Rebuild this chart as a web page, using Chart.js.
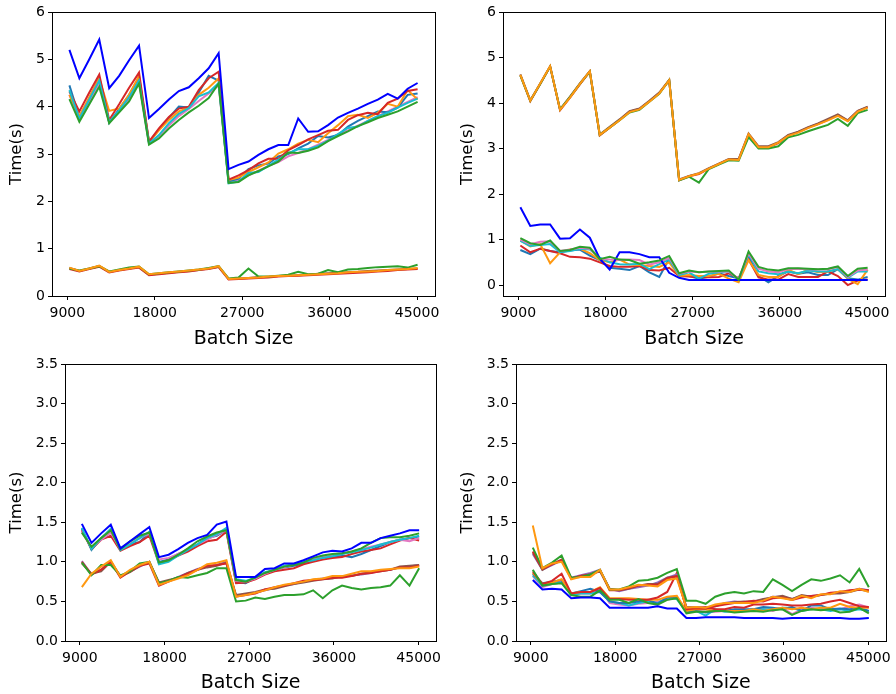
<!DOCTYPE html>
<html>
<head>
<meta charset="utf-8">
<script src="https://cdn.jsdelivr.net/npm/chart.js@4.4.0/dist/chart.umd.min.js"></script>
<style>
  body { margin: 0; background: #fff; }
  #wrap { position: relative; width: 896px; height: 694px; }
  canvas { position: absolute; }
</style>
</head>
<body>
<div id="wrap">
  <canvas id="c1" width="448" height="350" style="left:0;top:0;width:448px;height:350px"></canvas>
  <canvas id="c2" width="448" height="350" style="left:448px;top:0;width:448px;height:350px"></canvas>
  <canvas id="c3" width="448" height="347" style="left:0;top:347px;width:448px;height:347px"></canvas>
  <canvas id="c4" width="448" height="347" style="left:448px;top:347px;width:448px;height:347px"></canvas>
</div>
<script>
const batchSizes = [9216, 10240, 11264, 12288, 13312, 14336, 15360, 16384, 17408, 18432, 19456, 20480,
  21504, 22528, 23552, 24576, 25600, 26624, 27648, 28672, 29696, 30720, 31744, 32768,
  33792, 34816, 35840, 36864, 37888, 38912, 39936, 40960, 41984, 43008, 44032, 45056];
const xTicks = [9000, 18000, 27000, 36000, 45000];
const yTicksTop = [0, 1, 2, 3, 4, 5, 6];
const yTicksBottom = [0, 0.5, 1, 1.5, 2, 2.5, 3, 3.5];

// top left
const p1Blue = [5.2, 4.6, 5.0, 5.42, 4.39, 4.65, 4.98, 5.29, 3.76, 3.95, 4.15, 4.33, 4.41, 4.6, 4.81, 5.13, 2.68, 2.77, 2.84, 2.98, 3.1, 3.19, 3.19, 3.75, 3.47, 3.48, 3.61, 3.77, 3.87, 3.96, 4.06, 4.15, 4.27, 4.17, 4.38, 4.5];
const p1Red = [4.32, 3.9, 4.3, 4.68, 3.72, 4.05, 4.4, 4.72, 3.26, 3.54, 3.78, 3.96, 4.0, 4.35, 4.6, 4.74, 2.46, 2.55, 2.66, 2.8, 2.9, 2.9, 3.08, 3.19, 3.31, 3.4, 3.49, 3.51, 3.72, 3.82, 3.87, 3.84, 4.08, 4.17, 4.33, 4.37];
const p1TabBlue = [4.45, 3.78, 4.18, 4.6, 3.66, 3.95, 4.25, 4.62, 3.25, 3.52, 3.76, 4.0, 3.98, 4.3, 4.65, 4.55, 2.42, 2.48, 2.68, 2.76, 2.8, 2.95, 3.0, 3.12, 3.22, 3.38, 3.35, 3.4, 3.58, 3.7, 3.8, 3.9, 3.88, 3.98, 4.25, 4.28];
const p1Orange = [4.25, 3.8, 4.2, 4.6, 3.91, 3.96, 4.25, 4.65, 3.25, 3.5, 3.72, 3.9, 3.98, 4.25, 4.4, 4.6, 2.45, 2.5, 2.62, 2.72, 2.82, 3.01, 3.1, 3.22, 3.3, 3.25, 3.44, 3.61, 3.8, 3.83, 3.76, 3.87, 4.06, 4.0, 4.35, 4.15];
const p1Cyan = [4.35, 3.75, 4.15, 4.55, 3.68, 3.92, 4.2, 4.55, 3.22, 3.4, 3.65, 3.85, 3.97, 4.22, 4.3, 4.5, 2.38, 2.42, 2.6, 2.62, 2.75, 2.88, 3.02, 3.1, 3.1, 3.17, 3.28, 3.42, 3.55, 3.58, 3.7, 3.8, 3.87, 3.98, 4.08, 4.17];
const p1Pink = [4.25, 3.72, 4.1, 4.5, 3.67, 3.9, 4.15, 4.52, 3.23, 3.38, 3.6, 3.8, 3.95, 4.12, 4.28, 4.45, 2.42, 2.45, 2.55, 2.65, 2.75, 2.83, 2.95, 3.02, 3.1, 3.2, 3.3, 3.42, 3.5, 3.6, 3.7, 3.8, 3.9, 4.0, 4.1, 4.2];
const p1Green = [4.16, 3.68, 4.05, 4.42, 3.65, 3.88, 4.11, 4.49, 3.2, 3.33, 3.54, 3.72, 3.88, 4.02, 4.18, 4.49, 2.39, 2.41, 2.55, 2.64, 2.74, 2.84, 3.03, 3.02, 3.07, 3.14, 3.27, 3.38, 3.48, 3.59, 3.67, 3.76, 3.83, 3.9, 4.0, 4.1];
const p1OrangeLow = [0.6, 0.53, 0.58, 0.64, 0.51, 0.55, 0.58, 0.62, 0.46, 0.48, 0.5, 0.52, 0.54, 0.56, 0.58, 0.63, 0.36, 0.37, 0.38, 0.39, 0.41, 0.42, 0.43, 0.44, 0.45, 0.46, 0.47, 0.48, 0.5, 0.51, 0.52, 0.53, 0.55, 0.56, 0.57, 0.59];
const p1GreenLow = [0.58, 0.54, 0.58, 0.63, 0.52, 0.56, 0.6, 0.62, 0.46, 0.48, 0.5, 0.52, 0.54, 0.56, 0.59, 0.63, 0.37, 0.39, 0.58, 0.41, 0.41, 0.43, 0.45, 0.51, 0.46, 0.47, 0.55, 0.5, 0.56, 0.57, 0.59, 0.61, 0.62, 0.63, 0.6, 0.66];
const p1RedLow = [0.57, 0.52, 0.57, 0.62, 0.5, 0.54, 0.57, 0.6, 0.44, 0.46, 0.48, 0.5, 0.52, 0.55, 0.57, 0.61, 0.35, 0.36, 0.37, 0.38, 0.39, 0.41, 0.42, 0.43, 0.44, 0.45, 0.46, 0.47, 0.48, 0.49, 0.5, 0.52, 0.53, 0.55, 0.56, 0.57];
const p1BrownLow = [0.59, 0.53, 0.58, 0.63, 0.51, 0.55, 0.58, 0.61, 0.45, 0.47, 0.49, 0.51, 0.53, 0.55, 0.58, 0.62, 0.36, 0.37, 0.38, 0.4, 0.4, 0.42, 0.43, 0.44, 0.45, 0.47, 0.48, 0.49, 0.5, 0.51, 0.53, 0.54, 0.55, 0.56, 0.57, 0.58];

// top right
const p2OrangeUp = [4.62, 4.05, 4.43, 4.81, 3.85, 4.12, 4.42, 4.7, 3.3, 3.46, 3.62, 3.8, 3.86, 4.03, 4.21, 4.5, 2.31, 2.39, 2.45, 2.56, 2.66, 2.76, 2.75, 3.32, 3.03, 3.03, 3.13, 3.28, 3.35, 3.45, 3.53, 3.62, 3.72, 3.6, 3.81, 3.9];
const p2GreenUp = [4.6, 4.05, 4.42, 4.8, 3.86, 4.13, 4.42, 4.69, 3.3, 3.46, 3.62, 3.79, 3.85, 4.03, 4.2, 4.5, 2.3, 2.38, 2.25, 2.55, 2.65, 2.74, 2.73, 3.25, 3.0, 3.0, 3.05, 3.25, 3.3, 3.38, 3.45, 3.52, 3.65, 3.5, 3.78, 3.85];
const p2BrownUp = [4.63, 4.06, 4.43, 4.81, 3.86, 4.14, 4.43, 4.7, 3.31, 3.48, 3.64, 3.82, 3.88, 4.05, 4.23, 4.51, 2.32, 2.4, 2.46, 2.57, 2.67, 2.77, 2.77, 3.33, 3.05, 3.05, 3.14, 3.3, 3.37, 3.47, 3.55, 3.65, 3.75, 3.62, 3.83, 3.92];
const p2RedUp = [4.61, 4.04, 4.42, 4.8, 3.84, 4.12, 4.41, 4.69, 3.29, 3.46, 3.63, 3.81, 3.87, 4.04, 4.22, 4.5, 2.3, 2.39, 2.44, 2.56, 2.66, 2.76, 2.76, 3.3, 3.04, 3.03, 3.12, 3.29, 3.36, 3.46, 3.54, 3.63, 3.74, 3.61, 3.82, 3.91];
const p2Blue = [1.71, 1.3, 1.33, 1.33, 1.02, 1.03, 1.22, 1.04, 0.58, 0.34, 0.72, 0.72, 0.68, 0.61, 0.61, 0.27, 0.16, 0.11, 0.11, 0.11, 0.11, 0.11, 0.11, 0.11, 0.11, 0.11, 0.11, 0.11, 0.11, 0.11, 0.11, 0.11, 0.11, 0.11, 0.11, 0.11];
const p2Green = [1.03, 0.92, 0.88, 0.98, 0.75, 0.77, 0.84, 0.82, 0.57, 0.62, 0.56, 0.55, 0.47, 0.5, 0.54, 0.64, 0.26, 0.32, 0.28, 0.3, 0.31, 0.32, 0.12, 0.74, 0.4, 0.34, 0.32, 0.37, 0.37, 0.36, 0.35, 0.36, 0.41, 0.2, 0.36, 0.38];
const p2Red = [0.87, 0.72, 0.8, 0.75, 0.7, 0.62, 0.61, 0.58, 0.5, 0.42, 0.4, 0.4, 0.42, 0.33, 0.32, 0.38, 0.2, 0.19, 0.17, 0.17, 0.18, 0.26, 0.15, 0.56, 0.17, 0.12, 0.12, 0.24, 0.18, 0.18, 0.18, 0.3, 0.2, 0.0, 0.1, 0.12];
const p2TabBlue = [0.77, 0.68, 0.8, 0.75, 0.72, 0.76, 0.78, 0.65, 0.55, 0.38, 0.36, 0.33, 0.42, 0.28, 0.18, 0.58, 0.22, 0.2, 0.14, 0.18, 0.26, 0.2, 0.15, 0.62, 0.2, 0.06, 0.2, 0.3, 0.25, 0.28, 0.22, 0.22, 0.35, 0.15, 0.12, 0.18];
const p2OrangeLow = [0.98, 0.85, 0.9, 0.48, 0.72, 0.78, 0.8, 0.7, 0.55, 0.5, 0.56, 0.45, 0.44, 0.42, 0.4, 0.5, 0.2, 0.22, 0.2, 0.2, 0.25, 0.14, 0.06, 0.55, 0.22, 0.18, 0.18, 0.34, 0.24, 0.34, 0.28, 0.3, 0.35, 0.14, 0.02, 0.34];
const p2Cyan = [0.97, 0.86, 0.88, 0.9, 0.72, 0.75, 0.8, 0.78, 0.6, 0.5, 0.46, 0.45, 0.47, 0.35, 0.46, 0.56, 0.22, 0.28, 0.14, 0.25, 0.28, 0.3, 0.12, 0.68, 0.3, 0.26, 0.24, 0.3, 0.26, 0.32, 0.3, 0.3, 0.35, 0.16, 0.3, 0.3];
const p2Pink = [1.0, 0.9, 0.95, 0.96, 0.75, 0.78, 0.82, 0.8, 0.58, 0.56, 0.55, 0.56, 0.55, 0.45, 0.5, 0.6, 0.25, 0.3, 0.28, 0.3, 0.3, 0.3, 0.13, 0.7, 0.36, 0.3, 0.28, 0.35, 0.36, 0.35, 0.34, 0.35, 0.4, 0.18, 0.32, 0.34];

// bottom left
const p3Blue = [1.48, 1.24, 1.36, 1.47, 1.17, 1.26, 1.35, 1.44, 1.06, 1.09, 1.16, 1.24, 1.3, 1.34, 1.47, 1.51, 0.81, 0.81, 0.81, 0.91, 0.92, 0.98, 0.98, 1.02, 1.07, 1.12, 1.14, 1.13, 1.17, 1.24, 1.24, 1.3, 1.33, 1.36, 1.4, 1.4];
const p3Green = [1.37, 1.19, 1.3, 1.4, 1.16, 1.26, 1.33, 1.37, 0.99, 1.02, 1.09, 1.17, 1.26, 1.32, 1.37, 1.4, 0.77, 0.75, 0.8, 0.86, 0.9, 0.94, 0.96, 0.99, 1.05, 1.08, 1.1, 1.11, 1.13, 1.17, 1.24, 1.3, 1.31, 1.31, 1.33, 1.36];
const p3Red = [1.4, 1.16, 1.28, 1.33, 1.14, 1.2, 1.25, 1.33, 0.98, 1.02, 1.08, 1.13, 1.2, 1.26, 1.28, 1.38, 0.73, 0.74, 0.78, 0.84, 0.88, 0.9, 0.92, 0.97, 1.0, 1.03, 1.05, 1.06, 1.1, 1.13, 1.15, 1.17, 1.22, 1.27, 1.3, 1.27];
const p3Cyan = [1.43, 1.16, 1.3, 1.42, 1.15, 1.22, 1.3, 1.38, 0.97, 1.0, 1.08, 1.15, 1.22, 1.3, 1.35, 1.43, 0.78, 0.76, 0.8, 0.87, 0.9, 0.95, 0.97, 1.0, 1.02, 1.05, 1.07, 1.1, 1.12, 1.15, 1.18, 1.22, 1.25, 1.28, 1.3, 1.33];
const p3TabBlue = [1.42, 1.15, 1.3, 1.4, 1.17, 1.22, 1.25, 1.37, 1.0, 1.03, 1.1, 1.15, 1.22, 1.3, 1.33, 1.4, 0.74, 0.73, 0.8, 0.86, 0.89, 0.93, 0.95, 0.98, 1.02, 1.06, 1.06, 1.08, 1.06, 1.1, 1.15, 1.2, 1.25, 1.28, 1.3, 1.32];
const p3Pink = [1.38, 1.18, 1.28, 1.37, 1.16, 1.23, 1.3, 1.36, 1.03, 1.05, 1.1, 1.16, 1.22, 1.28, 1.34, 1.4, 0.76, 0.75, 0.79, 0.85, 0.9, 0.93, 0.97, 1.0, 1.03, 1.06, 1.08, 1.1, 1.13, 1.16, 1.19, 1.22, 1.25, 1.28, 1.26, 1.3];
const p3Orange = [0.68, 0.85, 0.94, 1.02, 0.81, 0.9, 0.96, 1.0, 0.71, 0.75, 0.79, 0.83, 0.9, 0.97, 0.99, 1.02, 0.56, 0.58, 0.61, 0.64, 0.68, 0.71, 0.73, 0.75, 0.78, 0.79, 0.82, 0.82, 0.85, 0.88, 0.88, 0.9, 0.91, 0.92, 0.92, 0.94];
const p3RedLow = [1.0, 0.84, 0.9, 1.0, 0.8, 0.88, 0.95, 0.98, 0.7, 0.75, 0.8, 0.85, 0.9, 0.95, 0.96, 0.98, 0.56, 0.58, 0.6, 0.65, 0.68, 0.7, 0.73, 0.76, 0.77, 0.78, 0.8, 0.8, 0.82, 0.85, 0.86, 0.88, 0.9, 0.93, 0.93, 0.95];
const p3BrownLow = [0.98, 0.85, 0.88, 1.0, 0.82, 0.87, 0.95, 1.0, 0.74, 0.77, 0.8, 0.86, 0.9, 0.93, 0.95, 0.99, 0.58, 0.6, 0.62, 0.65, 0.66, 0.69, 0.72, 0.74, 0.76, 0.78, 0.79, 0.82, 0.82, 0.85, 0.87, 0.88, 0.9, 0.94, 0.95, 0.96];
const p3PurpleLow = [1.01, 0.84, 0.9, 1.01, 0.81, 0.88, 0.94, 1.0, 0.72, 0.76, 0.81, 0.86, 0.91, 0.94, 0.96, 1.0, 0.57, 0.59, 0.61, 0.64, 0.67, 0.7, 0.72, 0.75, 0.77, 0.79, 0.8, 0.81, 0.83, 0.84, 0.86, 0.89, 0.9, 0.93, 0.94, 0.96];
const p3GreenLow = [0.99, 0.83, 0.96, 0.96, 0.83, 0.88, 0.98, 1.0, 0.73, 0.76, 0.81, 0.8, 0.83, 0.86, 0.92, 0.92, 0.5, 0.51, 0.55, 0.53, 0.56, 0.58, 0.58, 0.59, 0.64, 0.54, 0.64, 0.7, 0.67, 0.65, 0.67, 0.68, 0.7, 0.83, 0.7, 0.92];

// bottom right
const p4Orange = [1.46, 0.92, 0.98, 1.0, 0.78, 0.81, 0.81, 0.9, 0.65, 0.65, 0.68, 0.71, 0.7, 0.69, 0.77, 0.79, 0.42, 0.43, 0.42, 0.46, 0.48, 0.48, 0.48, 0.48, 0.51, 0.56, 0.54, 0.52, 0.57, 0.54, 0.59, 0.59, 0.63, 0.62, 0.66, 0.62];
const p4Green = [1.18, 0.92, 0.99, 1.08, 0.8, 0.81, 0.84, 0.9, 0.65, 0.65, 0.69, 0.76, 0.77, 0.8, 0.86, 0.91, 0.51, 0.51, 0.47, 0.56, 0.6, 0.62, 0.6, 0.63, 0.62, 0.78, 0.71, 0.63, 0.71, 0.78, 0.76, 0.79, 0.83, 0.74, 0.91, 0.68];
const p4Brown = [1.12, 0.9, 0.97, 1.03, 0.79, 0.82, 0.84, 0.88, 0.66, 0.64, 0.66, 0.7, 0.72, 0.72, 0.8, 0.82, 0.43, 0.42, 0.41, 0.45, 0.47, 0.49, 0.5, 0.5, 0.53, 0.55, 0.57, 0.53, 0.58, 0.56, 0.58, 0.6, 0.6, 0.62, 0.65, 0.63];
const p4Purple = [1.1, 0.9, 0.96, 1.02, 0.8, 0.83, 0.86, 0.9, 0.66, 0.63, 0.66, 0.68, 0.7, 0.74, 0.8, 0.84, 0.42, 0.43, 0.42, 0.44, 0.48, 0.5, 0.49, 0.5, 0.52, 0.56, 0.56, 0.53, 0.57, 0.57, 0.58, 0.6, 0.61, 0.63, 0.66, 0.64];
const p4RedUp = [1.13, 0.91, 0.97, 1.02, 0.79, 0.82, 0.84, 0.89, 0.64, 0.64, 0.67, 0.7, 0.71, 0.71, 0.79, 0.82, 0.41, 0.41, 0.41, 0.44, 0.46, 0.48, 0.49, 0.51, 0.5, 0.54, 0.55, 0.52, 0.55, 0.57, 0.58, 0.61, 0.62, 0.64, 0.65, 0.64];
const p4RedMid = [0.88, 0.72, 0.76, 0.85, 0.6, 0.62, 0.62, 0.67, 0.53, 0.53, 0.52, 0.52, 0.52, 0.55, 0.62, 0.86, 0.4, 0.42, 0.43, 0.4, 0.4, 0.43, 0.42, 0.46, 0.46, 0.47, 0.46, 0.45, 0.45, 0.46, 0.47, 0.5, 0.52, 0.48, 0.44, 0.43];
const p4OrangeMid = [0.86, 0.72, 0.74, 0.78, 0.6, 0.62, 0.62, 0.68, 0.54, 0.54, 0.54, 0.53, 0.52, 0.52, 0.56, 0.57, 0.38, 0.4, 0.4, 0.38, 0.38, 0.38, 0.38, 0.4, 0.38, 0.4, 0.42, 0.4, 0.42, 0.4, 0.42, 0.42, 0.47, 0.43, 0.42, 0.42];
const p4TabBlue = [0.85, 0.73, 0.75, 0.77, 0.6, 0.63, 0.66, 0.62, 0.5, 0.48, 0.48, 0.5, 0.52, 0.47, 0.55, 0.56, 0.37, 0.38, 0.36, 0.38, 0.38, 0.4, 0.4, 0.4, 0.43, 0.42, 0.4, 0.43, 0.38, 0.45, 0.45, 0.4, 0.41, 0.4, 0.42, 0.38];
const p4Cyan = [0.83, 0.7, 0.72, 0.74, 0.58, 0.6, 0.6, 0.62, 0.5, 0.48, 0.45, 0.48, 0.5, 0.48, 0.55, 0.53, 0.37, 0.38, 0.32, 0.4, 0.37, 0.38, 0.38, 0.4, 0.4, 0.4, 0.42, 0.42, 0.38, 0.4, 0.4, 0.38, 0.4, 0.38, 0.4, 0.38];
const p4Green2 = [0.9, 0.7, 0.72, 0.73, 0.58, 0.56, 0.56, 0.64, 0.52, 0.52, 0.48, 0.53, 0.48, 0.46, 0.52, 0.54, 0.35, 0.37, 0.37, 0.38, 0.38, 0.36, 0.37, 0.38, 0.37, 0.39, 0.4, 0.33, 0.38, 0.4, 0.39, 0.4, 0.36, 0.37, 0.42, 0.35];
const p4Pink = [0.82, 0.68, 0.72, 0.76, 0.6, 0.6, 0.6, 0.66, 0.48, 0.46, 0.45, 0.47, 0.48, 0.5, 0.52, 0.55, 0.38, 0.38, 0.37, 0.37, 0.38, 0.37, 0.38, 0.4, 0.4, 0.38, 0.42, 0.34, 0.4, 0.42, 0.4, 0.41, 0.4, 0.44, 0.46, 0.42];
const p4Blue = [0.77, 0.65, 0.66, 0.65, 0.54, 0.55, 0.55, 0.54, 0.42, 0.42, 0.42, 0.42, 0.42, 0.44, 0.41, 0.41, 0.29, 0.29, 0.3, 0.3, 0.3, 0.3, 0.29, 0.29, 0.29, 0.29, 0.28, 0.29, 0.29, 0.29, 0.29, 0.29, 0.29, 0.28, 0.28, 0.29];

const C = {
  blue: "#0000ff", tabBlue: "#1f77b4", orange: "#ff9810", green: "#2ca02c", red: "#d62728",
  purple: "#9467bd", brown: "#8c564b", pink: "#e377c2", cyan: "#17becf"
};
const family = "'DejaVu Sans', sans-serif";
const tickFont = { family: family, size: 14 };

// matplotlib style box around the plot area
const frame = {
  id: "frame",
  afterDatasetsDraw(chart) {
    const a = chart.chartArea;
    const ctx = chart.ctx;
    ctx.save();
    ctx.strokeStyle = "#000";
    ctx.lineWidth = 1;
    ctx.strokeRect(Math.round(a.left) + 0.5, Math.round(a.top) + 0.5,
      Math.round(a.right - a.left), Math.round(a.bottom - a.top));
    ctx.restore();
  }
};

function drawPanel(id, cfg) {
  // first entry ends up on top
  const datasets = cfg.series.map(s => ({
    label: s[0],
    data: batchSizes.map((x, i) => ({ x: x, y: s[2][i] })),
    borderColor: s[1],
    borderWidth: 2,
    pointRadius: 0,
    fill: false,
    tension: 0
  }));

  new Chart(document.getElementById(id), {
    type: "line",
    data: { datasets: datasets },
    options: {
      responsive: false,
      animation: false,
      events: [],
      layout: { padding: cfg.pad },
      plugins: { legend: { display: false }, tooltip: { enabled: false } },
      scales: {
        x: {
          type: "linear",
          min: 7424,
          max: 46848,
          afterBuildTicks: ax => { ax.ticks = xTicks.map(v => ({ value: v })); },
          afterFit: ax => { ax.height = cfg.xh; },
          ticks: { font: tickFont, color: "#000", padding: 5, maxRotation: 0, autoSkip: false, callback: v => String(v) },
          grid: { drawOnChartArea: false, drawTicks: true, tickLength: 4, color: "#000" },
          border: { display: false },
          title: { display: true, text: "Batch Size", color: "#000", font: { family: family, size: 19 }, padding: { top: 0, bottom: 0 } }
        },
        y: {
          min: cfg.yMin,
          max: cfg.yMax,
          afterBuildTicks: ax => { ax.ticks = cfg.yTicks.map(v => ({ value: v })); },
          afterFit: ax => { ax.width = cfg.yw; },
          ticks: { font: tickFont, color: "#000", padding: 3, autoSkip: false, callback: v => cfg.fmt(v) },
          grid: { drawOnChartArea: false, drawTicks: true, tickLength: 4, color: "#000" },
          border: { display: false },
          title: { display: true, text: "Time(s)", color: "#000", font: { family: family, size: 16.5 }, padding: { top: cfg.ytPad, bottom: 0 } }
        }
      }
    },
    plugins: [frame]
  });
}

const intFmt = v => String(v);
const oneDec = v => v.toFixed(1);

drawPanel("c1", {
  pad: { left: 0, top: 12, right: 13, bottom: 0 }, yw: 52, xh: 54, ytPad: 7,
  yMin: 0, yMax: 6, yTicks: yTicksTop, fmt: intFmt,
  series: [
    ["orange low", C.orange, p1OrangeLow], ["green low", C.green, p1GreenLow],
    ["blue", C.blue, p1Blue], ["green", C.green, p1Green], ["cyan", C.cyan, p1Cyan],
    ["red", C.red, p1Red], ["orange", C.orange, p1Orange], ["tab blue", C.tabBlue, p1TabBlue],
    ["pink", C.pink, p1Pink], ["red low", C.red, p1RedLow], ["brown low", C.brown, p1BrownLow]
  ]
});

drawPanel("c2", {
  pad: { left: 0, top: 12, right: 11, bottom: 0 }, yw: 55, xh: 54, ytPad: 10,
  yMin: -0.24, yMax: 6, yTicks: yTicksTop, fmt: intFmt,
  series: [
    ["orange up", C.orange, p2OrangeUp], ["green up", C.green, p2GreenUp],
    ["brown up", C.brown, p2BrownUp], ["red up", C.red, p2RedUp],
    ["green", C.green, p2Green], ["blue", C.blue, p2Blue], ["pink", C.pink, p2Pink],
    ["cyan", C.cyan, p2Cyan], ["orange", C.orange, p2OrangeLow], ["red", C.red, p2Red],
    ["tab blue", C.tabBlue, p2TabBlue]
  ]
});

drawPanel("c3", {
  pad: { left: 0, top: 17, right: 12, bottom: 0 }, yw: 65, xh: 53, ytPad: 7,
  yMin: 0, yMax: 3.5, yTicks: yTicksBottom, fmt: oneDec,
  series: [
    ["orange", C.orange, p3Orange], ["green low", C.green, p3GreenLow],
    ["blue", C.blue, p3Blue], ["green", C.green, p3Green], ["cyan", C.cyan, p3Cyan],
    ["pink", C.pink, p3Pink], ["red", C.red, p3Red], ["tab blue", C.tabBlue, p3TabBlue],
    ["red low", C.red, p3RedLow], ["brown low", C.brown, p3BrownLow], ["purple low", C.purple, p3PurpleLow]
  ]
});

drawPanel("c4", {
  pad: { left: 0, top: 17, right: 9, bottom: 0 }, yw: 68, xh: 53, ytPad: 10,
  yMin: 0, yMax: 3.5, yTicks: yTicksBottom, fmt: oneDec,
  series: [
    ["blue", C.blue, p4Blue], ["orange", C.orange, p4Orange], ["green", C.green, p4Green],
    ["red up", C.red, p4RedUp], ["brown", C.brown, p4Brown], ["purple", C.purple, p4Purple],
    ["green mid", C.green, p4Green2], ["red mid", C.red, p4RedMid], ["orange mid", C.orange, p4OrangeMid],
    ["tab blue", C.tabBlue, p4TabBlue], ["cyan", C.cyan, p4Cyan], ["pink", C.pink, p4Pink]
  ]
});
</script>
</body>
</html>
